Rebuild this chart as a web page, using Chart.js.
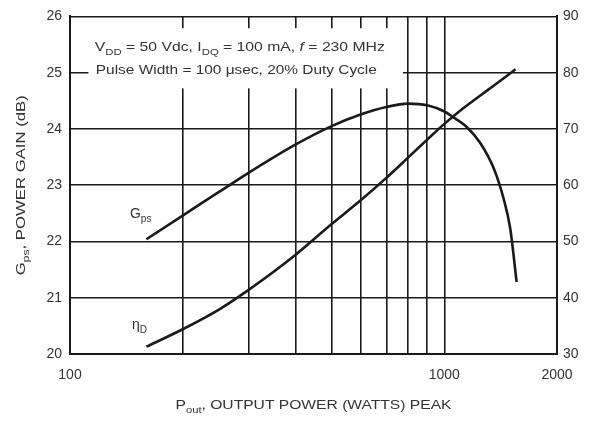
<!DOCTYPE html>
<html>
<head>
<meta charset="utf-8">
<script src="https://cdn.jsdelivr.net/npm/chart.js@4.4.0/dist/chart.umd.min.js"></script>
<style>
  body { margin: 0; background: #fff; }
  canvas { display: block; }
</style>
</head>
<body>
<canvas id="myChart" width="589" height="421"></canvas>
<script>
// curve data (watts peak -> dB / %)
const gainPower = [160, 200, 250, 300, 400, 500, 600, 700, 800, 900, 1000, 1050, 1150, 1250, 1355, 1440, 1500, 1560];
const gainValues = [22.04, 22.46, 22.88, 23.22, 23.72, 24.05, 24.26, 24.39, 24.45, 24.42, 24.31, 24.22, 24.03, 23.74, 23.30, 22.76, 22.23, 21.28];
const effPower = [160, 200, 250, 300, 400, 500, 600, 700, 800, 900, 1000, 1100, 1200, 1300, 1400, 1550];
const effValues = [31.3, 34.4, 37.9, 41.4, 47.6, 53.1, 57.4, 61.3, 64.9, 68.1, 70.9, 73.2, 75.1, 76.8, 78.4, 80.6];

const powerTicks = [100, 200, 300, 400, 500, 600, 700, 800, 900, 1000, 2000];
const powerLabels = ["100", "1000", "2000"];

const ink = "#1a1a1a";
const textCol = "#333";
const FONT = "Liberation Sans, Arial, sans-serif";

function toPoints(xs, ys) {
  return xs.map((x, i) => ({ x: x, y: ys[i] }));
}

// draw a run of text pieces, some subscripted / italic
function drawRuns(ctx, x, y, runs, size) {
  ctx.textAlign = "left";
  ctx.textBaseline = "alphabetic";
  runs.forEach(([txt, kind]) => {
    let s = size, dy = 0, style = "";
    if (kind === "sub") { s = size * 0.72; dy = size * 0.28; }
    if (kind === "it") style = "italic ";
    ctx.font = style + s + "px " + FONT;
    ctx.fillText(txt, x, y + dy);
    x += ctx.measureText(txt).width;
  });
  return x;
}

function runsWidth(ctx, runs, size) {
  let w = 0;
  runs.forEach(([txt, kind]) => {
    let s = kind === "sub" ? size * 0.72 : size;
    ctx.font = (kind === "it" ? "italic " : "") + s + "px " + FONT;
    w += ctx.measureText(txt).width;
  });
  return w;
}

// the scanned lettering is wider than Arial, so stretch it to the width seen
function drawRunsFit(ctx, x, y, runs, size, width) {
  const w = runsWidth(ctx, runs, size);
  ctx.save();
  ctx.translate(x, y);
  ctx.scale(width / w, 1);
  drawRuns(ctx, 0, 0, runs, size);
  ctx.restore();
}

const textPlugin = {
  id: "textPlugin",
  beforeDatasetsDraw(chart) {
    // white box behind the conditions note
    const { ctx, scales } = chart;
    const x0 = scales.x.getPixelForValue(112), x1 = scales.x.getPixelForValue(775);
    const y0 = scales.y.getPixelForValue(25.79), y1 = scales.y.getPixelForValue(24.72);
    ctx.save();
    ctx.fillStyle = "#fff";
    ctx.fillRect(x0, y0, x1 - x0, y1 - y0);
    ctx.restore();
  },
  afterDraw(chart) {
    const { ctx, chartArea, scales } = chart;
    ctx.save();
    ctx.fillStyle = textCol;

    // conditions note
    const nx = scales.x.getPixelForValue(116.5);
    drawRunsFit(ctx, nx, scales.y.getPixelForValue(25.38), [
      ["V", ""], ["DD", "sub"], [" = 50 Vdc, I", ""], ["DQ", "sub"],
      [" = 100 mA, ", ""], ["f", "it"], [" = 230 MHz", ""]
    ], 13.5, 290);
    drawRunsFit(ctx, nx + 1, scales.y.getPixelForValue(24.97), [
      ["Pulse Width = 100 \u03BCsec, 20% Duty Cycle", ""]
    ], 13.5, 281);

    // curve labels
    drawRuns(ctx, scales.x.getPixelForValue(144.6), scales.y.getPixelForValue(22.42),
      [["G", ""], ["ps", "sub"]], 14);
    drawRuns(ctx, scales.x.getPixelForValue(146.5), scales.y.getPixelForValue(20.45),
      [["\u03B7", ""], ["D", "sub"]], 14);

    // x axis title
    const xRuns = [["P", ""], ["out", "sub"], [", OUTPUT POWER (WATTS) PEAK", ""]];
    drawRunsFit(ctx, (chartArea.left + chartArea.right) / 2 - 138, 409, xRuns, 13, 276);

    // left axis title
    const yRuns = [["G", ""], ["ps", "sub"], [", POWER GAIN (dB)", ""]];
    ctx.translate(25, (chartArea.top + chartArea.bottom) / 2);
    ctx.rotate(-Math.PI / 2);
    drawRunsFit(ctx, -90, 0, yRuns, 13, 180);
    ctx.restore();
  }
};

const ctx = document.getElementById("myChart").getContext("2d");

new Chart(ctx, {
  type: "line",
  data: {
    datasets: [
      {
        label: "Gps",
        data: toPoints(gainPower, gainValues),
        yAxisID: "y",
        borderColor: ink,
        borderWidth: 2.6,
        pointRadius: 0,
        cubicInterpolationMode: "monotone",
        fill: false
      },
      {
        label: "ηD",
        data: toPoints(effPower, effValues),
        yAxisID: "y2",
        borderColor: ink,
        borderWidth: 2.6,
        pointRadius: 0,
        cubicInterpolationMode: "monotone",
        fill: false
      }
    ]
  },
  options: {
    responsive: false,
    animation: false,
    layout: { padding: { top: 16, left: 0, right: 0, bottom: 0 } },
    plugins: { legend: { display: false }, tooltip: { enabled: false } },
    scales: {
      x: {
        type: "logarithmic",
        min: 100,
        max: 2000,
        afterBuildTicks(scale) {
          scale.ticks = powerTicks.map((v) => ({ value: v }));
        },
        afterFit(scale) { scale.height = 67; },
        grid: { color: ink, lineWidth: 1.6, drawTicks: false },
        border: { color: ink, width: 2 },
        ticks: {
          autoSkip: false,
          maxRotation: 0,
          padding: 13,
          color: textCol,
          font: { family: FONT, size: 14 },
          callback: (v) => (powerLabels.includes(String(v)) ? String(v) : "")
        }
      },
      y: {
        position: "left",
        min: 20,
        max: 26,
        afterFit(scale) { scale.width = 70; },
        grid: { color: ink, lineWidth: 1.6, drawTicks: false },
        border: { color: ink, width: 2 },
        ticks: { stepSize: 1, padding: 8, color: textCol, font: { family: FONT, size: 14 } }
      },
      y2: {
        position: "right",
        min: 30,
        max: 90,
        afterFit(scale) { scale.width = 32; },
        grid: { display: false, drawTicks: false },
        border: { color: ink, width: 2 },
        ticks: { stepSize: 10, padding: 6, color: textCol, font: { family: FONT, size: 14 } }
      }
    }
  },
  plugins: [textPlugin]
});
</script>
</body>
</html>
